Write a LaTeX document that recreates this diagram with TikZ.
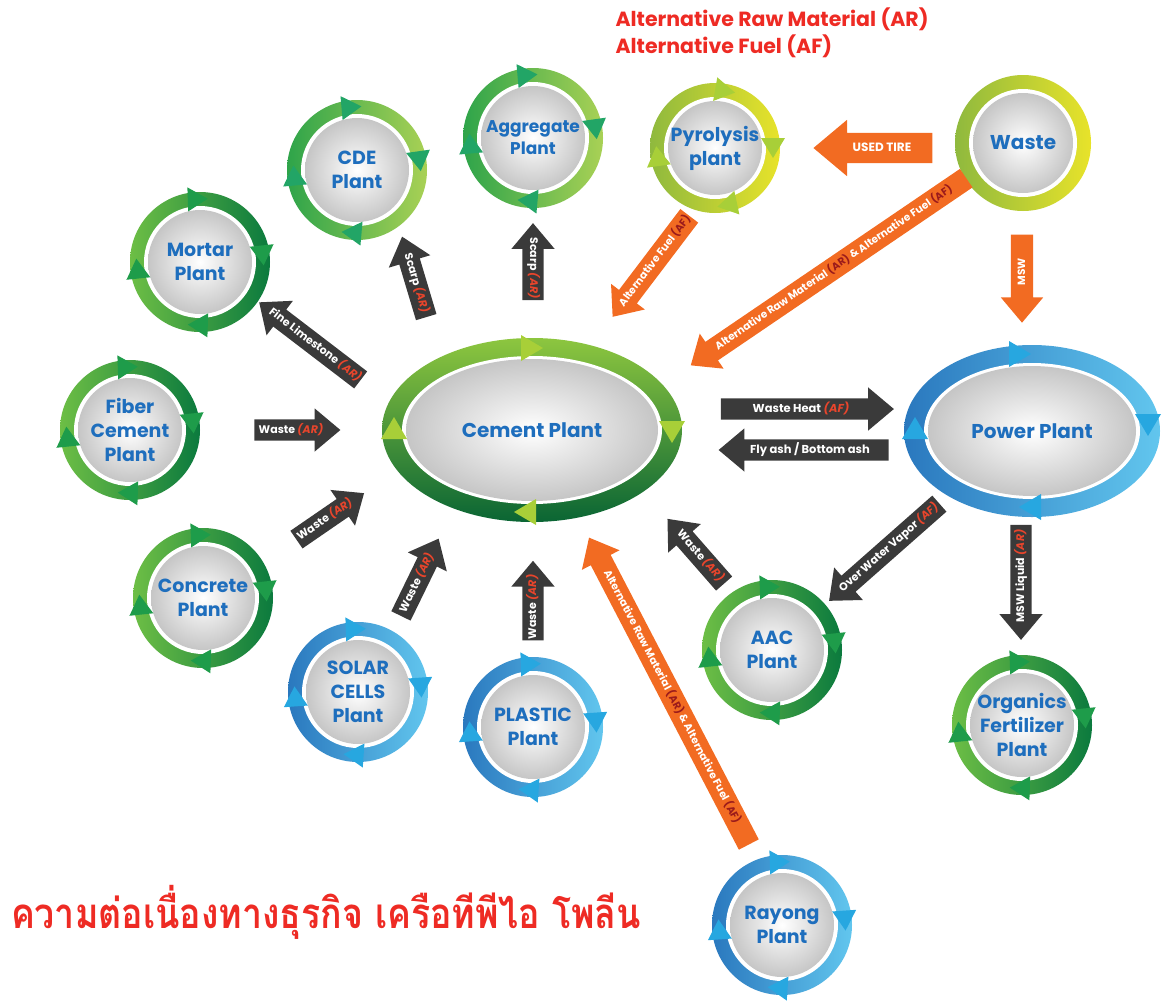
\documentclass[tikz,border=0pt]{standalone}
\usepackage{fontspec}
\setmainfont{Poppins}
\newfontfamily\thaifont[Script=Thai]{Loma}
\usetikzlibrary{shapes.geometric,shapes.arrows}
\definecolor{labblue}{HTML}{1E6EBD}
\definecolor{grlight}{HTML}{6DBE45}
\definecolor{grdark}{HTML}{0B7A3E}
\definecolor{grmid}{HTML}{2EA44A}
\definecolor{grpale}{HTML}{A9D155}
\definecolor{grtop}{HTML}{8DC63F}
\definecolor{grdeep}{HTML}{0A6534}
\definecolor{mkgreen}{HTML}{1E9C4A}
\definecolor{mkteal}{HTML}{22A566}
\definecolor{mklime}{HTML}{A8CF38}
\definecolor{bldark}{HTML}{2A78BE}
\definecolor{bllight}{HTML}{62C6EE}
\definecolor{mkblue}{HTML}{27A7E0}
\definecolor{yeolive}{HTML}{8FB93E}
\definecolor{yebright}{HTML}{E8E32A}
\definecolor{argray}{HTML}{3A3A3A}
\definecolor{arred}{HTML}{E8452C}
\definecolor{orng}{HTML}{F26B22}
\definecolor{ordark}{HTML}{9B1B1B}
\definecolor{hdred}{HTML}{EE2B24}
\newcommand\mattag[1]{\textcolor{arred}{\itshape(#1)}}
\newcommand\fueltag[1]{\textcolor{ordark}{(#1)}}
\begin{document}
\begin{tikzpicture}[x=1pt, y=1pt,
  plant/.style={circle, minimum size=2*#1, inner sep=0pt, align=center, text=labblue,
    font=\bfseries\fontsize{19}{24}\selectfont,
    path picture={\fill[white] (path picture bounding box.center) circle (#1-14pt);
      \shade[inner color=white, outer color=gray!45] (path picture bounding box.center) circle (#1-18pt);}},
  plant/.default=70pt,
  hub/.style 2 args={ellipse, minimum width=2*#1, minimum height=2*#2, inner sep=0pt, text=labblue,
    font=\bfseries\fontsize{20}{24}\selectfont,
    path picture={\fill[white] (path picture bounding box.center) ellipse [x radius=#1-20pt, y radius=#2-18pt];
      \shade[inner color=white, outer color=gray!45] (path picture bounding box.center) ellipse [x radius=#1-24pt, y radius=#2-21pt];}},
  greenring/.style={left color=grlight, right color=grdark},
  limering/.style={left color=grmid, right color=grpale},
  bluering/.style={left color=bldark, right color=bllight},
  yellowring/.style={left color=yeolive, right color=yebright},
  darr/.style={single arrow, fill=argray, text=white, font=\bfseries\fontsize{11}{12}\selectfont,
    text height=8pt, text depth=2pt, inner xsep=1pt, inner ysep=5.5pt,
    single arrow head extend=11pt, single arrow tip angle=80, minimum height=#1},
  oarr/.style={single arrow, fill=orng, text=white, font=\bfseries\fontsize{10.5}{11}\selectfont,
    text height=8pt, text depth=2pt, inner xsep=1pt, inner ysep=6pt,
    single arrow head extend=10pt, single arrow tip angle=80, minimum height=#1},
  rev/.style={shape border rotate=180}]
\useasboundingbox (0,-1002) rectangle (1162,0);

\node[plant, limering] (cde) at (357,-170) {CDE\\Plant};
\node[plant, limering, font=\bfseries\fontsize{17}{22}\selectfont] (aggregate) at (533,-138) {Aggregate\\Plant};
\node[plant=65pt, yellowring] (pyrolysis) at (715,-148) {Pyrolysis\\plant};
\node[plant=68pt, yellowring, font=\bfseries\fontsize{20}{24}\selectfont] (waste) at (1023,-143) {Waste};
\node[plant, greenring] (mortar) at (200,-262) {Mortar\\Plant};
\node[plant, greenring] (fiber) at (130,-430) {Fiber\\Cement\\Plant};
\node[plant, greenring] (concrete) at (203,-598) {Concrete\\Plant};
\node[plant, bluering] (solar) at (358,-692) {SOLAR\\CELLS\\Plant};
\node[plant, bluering] (plastic) at (533,-727) {PLASTIC\\Plant};
\node[plant, bluering] (rayong) at (782,-925) {Rayong\\Plant};
\node[plant, greenring] (aac) at (772,-650) {AAC\\Plant};
\node[plant, greenring] (organics) at (1022,-725) {Organics\\Fertilizer\\Plant};
\node[hub={150pt}{92pt}, top color=grtop, bottom color=grdeep] (cement) at (532,-430) {Cement Plant};
\node[hub={128pt}{86pt}, left color=bldark, right color=bllight] (power) at (1032,-431) {Power Plant};

\foreach \n in {mortar,fiber,concrete,aac,organics}
  \foreach \a in {92,6,-92,186}
    \fill[mkgreen, shift={(\n.center)}, rotate=\a] (51,10) -- (75,10) -- (63,-10) -- cycle;
\foreach \n in {cde,aggregate}
  \foreach \a in {95,8,-95,185}
    \fill[mkteal, shift={(\n.center)}, rotate=\a] (51,10) -- (75,10) -- (63,-10) -- cycle;
\foreach \n in {solar,plastic,rayong}
  \foreach \a in {92,4,-94,184}
    \fill[mkblue, shift={(\n.center)}, rotate=\a] (51,10) -- (75,10) -- (63,-10) -- cycle;
\foreach \a in {80,0,-78,188}
  \fill[mklime, shift={(pyrolysis.center)}, rotate=\a] (46,10) -- (70,10) -- (58,-10) -- cycle;
\foreach \p/\d in {{(0,82)}/0, {(140,-2)}/-90, {(-7,-82)}/180, {(-138,2)}/90}
  \fill[mklime, shift={(cement.center)}, shift={\p}, rotate=\d] (-11,-13) -- (-11,13) -- (11,0) -- cycle;
\foreach \p/\d in {{(-12,77)}/0, {(116,6)}/-90, {(-2,-76)}/180, {(-117,3)}/90}
  \fill[mkblue, shift={(power.center)}, shift={\p}, rotate=\d] (-11,-13) -- (-11,13) -- (11,0) -- cycle;

\node[darr=123, rev, rotate=-37.4] (limestone) at (315,-345) {Fine Limestone \mattag{AR}};
\node[darr=84, rev, rotate=-73.3] (scarp1) at (416,-283) {Scarp \mattag{AR}};
\node[darr=77, rev, rotate=-90] (scarp2) at (533,-268) {Scarp \mattag{AR}};
\node[darr=86] (waste1) at (291,-430) {Waste \mattag{AR}};
\node[darr=82, rotate=34.5] (waste2) at (325,-520) {Waste \mattag{AR}};
\node[darr=86, rotate=64] (waste3) at (417,-583) {Waste \mattag{AR}};
\node[darr=77, rotate=90] (waste4) at (533,-607) {Waste \mattag{AR}};
\node[darr=86, rev, rotate=-48.8] (waste5) at (700,-556) {Waste \mattag{AR}};
\node[darr=173, font=\bfseries\fontsize{11.5}{12}\selectfont] (heat) at (801,-409) {Waste Heat \mattag{AF}};
\node[darr=170, rev, font=\bfseries\fontsize{11.5}{12}\selectfont] (ash) at (810,-450) {Fly ash / Bottom ash};
\node[darr=147, rev, rotate=41.4] (vapor) at (889,-548) {Over Water Vapor \mattag{AF}};
\node[darr=115, rev, rotate=90] (liquid) at (1021,-576) {MSW Liquid \mattag{AR}};
\node[oarr=119, rev, inner ysep=10pt, single arrow head extend=13pt, font=\bfseries\fontsize{12}{13}\selectfont] (tire) at (882,-148) {USED TIRE};
\node[oarr=88, rev, rotate=90] (msw) at (1022,-272) {MSW};
\node[oarr=126, rev, rotate=52.8] (fuel) at (655,-261) {Alternative Fuel \fueltag{AF}};
\node[oarr=333, rev, rotate=34.2] (mixtop) at (834,-268) {Alternative Raw Material \fueltag{AR} \& Alternative Fuel \fueltag{AF}};
\node[oarr=346, rev, rotate=-62.5] (mixlow) at (672,-697) {Alternative Raw Material \fueltag{AR} \& Alternative Fuel \fueltag{AF}};

\node[anchor=north west, align=left, text=hdred, font=\bfseries\fontsize{20.5}{27}\selectfont] (legend) at (612,-4) {Alternative Raw Material (AR)\\Alternative Fuel (AF)};
\node[anchor=west, xscale=0.85, text=hdred, font=\thaifont\bfseries\fontsize{42}{48}\selectfont] (title) at (8,-912) {ความต่อเนื่องทางธุรกิจ เครือทีพีไอ โพลีน};
\end{tikzpicture}
\end{document}
